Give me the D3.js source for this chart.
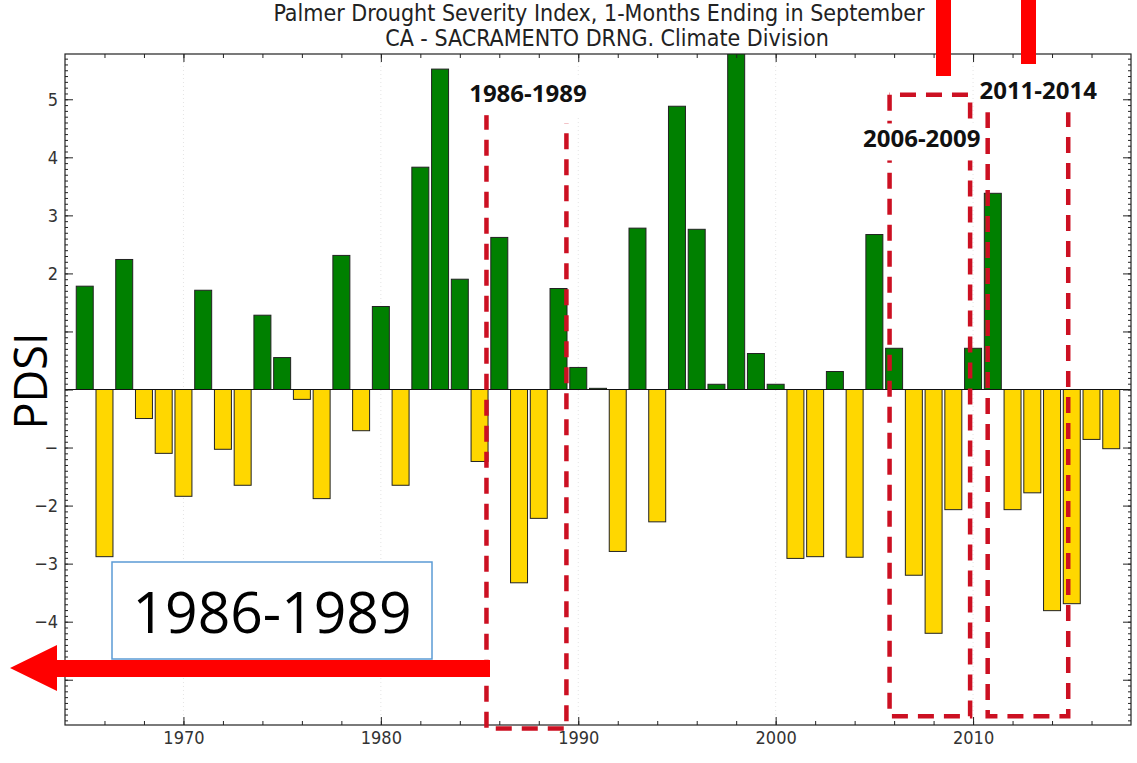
<!DOCTYPE html>
<html>
<head>
<meta charset="utf-8">
<script src="https://cdn.jsdelivr.net/npm/d3@7"></script>
<style>
  body { margin: 0; background: #fff; }
  svg { display: block; }
</style>
</head>
<body>
<div id="chart"></div>
<script>
// PDSI, September, CA Sacramento Drainage climate division
var years = d3.range(1965, 2018);
var pdsi = [
   1.78, -2.88,  2.24, -0.50, -1.10, -1.84,  1.71, -1.03, -1.65,  1.28,
   0.55, -0.17, -1.88,  2.31, -0.71,  1.43, -1.65,  3.83,  5.52,  1.90,
  -1.24,  2.62, -3.33, -2.22,  1.74,  0.38,  0.02, -2.79,  2.78, -2.28,
   4.88,  2.76,  0.09,  5.90,  0.62,  0.09, -2.91, -2.88,  0.31, -2.89,
   2.67,  0.71, -3.20, -4.20, -2.07,  0.71,  3.38, -2.07, -1.78, -3.81,
  -3.69, -0.86, -1.02
];
var xTicks = [1970, 1980, 1990, 2000, 2010];
var yTicks = [-5, -4, -3, -2, -1, 0, 1, 2, 3, 4, 5];
var yTickLabels = ["", "\u22124", "\u22123", "\u22122", "\u2212", "", "", "2", "3", "4", "5"];

// highlighted drought periods (years / PDSI units)
var periods = [
  {label: "1986-1989", x0: 1985.35, x1: 1989.4, top0: 4.75, top1: 4.59, bottom: -5.84, lx: 1987.45, ly: 4.95, topLine: false},
  {label: "2006-2009", x0: 2005.77, x1: 2009.85, top0: 5.08, top1: 5.08, bottom: -5.63, lx: 2007.4, ly: 4.17, topLine: true},
  {label: "2011-2014", x0: 2010.74, x1: 2014.82, top0: 4.78, top1: 4.82, bottom: -5.63, lx: 2013.3, ly: 5.0, topLine: false}
];

var data = years.map(function(y, i) { return {year: y, value: pdsi[i]}; });

var width = 1137, height = 763;
var margin = {left: 65, top: 54, right: 6, bottom: 38};
var tickFont = "'DejaVu Sans Condensed', 'DejaVu Sans', sans-serif";

var svg = d3.select("#chart").append("svg")
  .attr("width", width)
  .attr("height", height);

var xScale = d3.scaleLinear()
  .domain([1964, 2018])
  .range([margin.left, width - margin.right]);

var yScale = d3.scaleLinear()
  .domain([-5.78, 5.78])
  .range([height - margin.bottom, margin.top]);

var x0 = margin.left, x1 = width - margin.right;
var y0 = margin.top, y1 = height - margin.bottom;

svg.append("clipPath").attr("id", "plot-clip")
  .append("rect")
  .attr("x", x0).attr("y", y0)
  .attr("width", x1 - x0).attr("height", y1 - y0);

// faint grid
svg.append("g").selectAll("line")
  .data(xTicks)
  .enter().append("line")
  .attr("x1", d => xScale(d)).attr("x2", d => xScale(d))
  .attr("y1", y0).attr("y2", y1)
  .attr("stroke", "#e4e4e4")
  .attr("stroke-dasharray", "1,3");

// bars
var barW = 0.86;
svg.append("g")
  .attr("clip-path", "url(#plot-clip)")
  .selectAll("rect")
  .data(data)
  .enter().append("rect")
  .attr("x", d => xScale(d.year - barW / 2))
  .attr("width", xScale(barW) - xScale(0))
  .attr("y", d => yScale(Math.max(0, d.value)))
  .attr("height", d => Math.abs(yScale(d.value) - yScale(0)))
  .attr("fill", d => d.value >= 0 ? "#008000" : "#ffd700")
  .attr("stroke", "#222")
  .attr("stroke-width", 1);

// zero line
svg.append("line")
  .attr("x1", x0).attr("x2", x1)
  .attr("y1", yScale(0)).attr("y2", yScale(0))
  .attr("stroke", "#111").attr("stroke-width", 1);

// axes, ticks pointing inwards like old matplotlib
var minorX = d3.range(1966, 2018, 2);
var minorY = d3.range(-57, 58).map(v => v / 10);

svg.append("g")
  .attr("transform", `translate(0, ${y1})`)
  .call(d3.axisBottom(xScale).tickValues(xTicks).tickFormat(d3.format("d")).tickSizeInner(-8).tickSizeOuter(0).tickPadding(6))
  .call(g => g.select(".domain").remove());

svg.append("g")
  .attr("transform", `translate(0, ${y1})`)
  .call(d3.axisBottom(xScale).tickValues(minorX).tickFormat("").tickSizeInner(-4).tickSizeOuter(0))
  .call(g => g.select(".domain").remove());

svg.append("g")
  .attr("transform", `translate(0, ${y0})`)
  .call(d3.axisTop(xScale).tickValues(xTicks).tickFormat("").tickSizeInner(-8).tickSizeOuter(0))
  .call(g => g.select(".domain").remove());

svg.append("g")
  .attr("transform", `translate(0, ${y0})`)
  .call(d3.axisTop(xScale).tickValues(minorX).tickFormat("").tickSizeInner(-4).tickSizeOuter(0))
  .call(g => g.select(".domain").remove());

svg.append("g")
  .attr("transform", `translate(${x0}, 0)`)
  .call(d3.axisLeft(yScale).tickValues(yTicks).tickFormat((d, i) => yTickLabels[i]).tickSizeInner(-8).tickSizeOuter(0).tickPadding(7))
  .call(g => g.select(".domain").remove());

svg.append("g")
  .attr("transform", `translate(${x0}, 0)`)
  .call(d3.axisLeft(yScale).tickValues(minorY).tickFormat("").tickSizeInner(-3).tickSizeOuter(0))
  .call(g => g.select(".domain").remove());

svg.append("g")
  .attr("transform", `translate(${x1}, 0)`)
  .call(d3.axisRight(yScale).tickValues(yTicks).tickFormat("").tickSizeInner(-8).tickSizeOuter(0))
  .call(g => g.select(".domain").remove());

svg.append("g")
  .attr("transform", `translate(${x1}, 0)`)
  .call(d3.axisRight(yScale).tickValues(minorY).tickFormat("").tickSizeInner(-3).tickSizeOuter(0))
  .call(g => g.select(".domain").remove());

svg.selectAll(".tick line").attr("stroke", "#222");
svg.selectAll(".tick text")
  .attr("font-family", tickFont)
  .attr("font-size", 18)
  .attr("fill", "#333");

// frame
svg.append("rect")
  .attr("x", x0).attr("y", y0)
  .attr("width", x1 - x0).attr("height", y1 - y0)
  .attr("fill", "none")
  .attr("stroke", "#222")
  .attr("stroke-width", 1.2);

// title
svg.append("text")
  .attr("x", 599).attr("y", 21)
  .attr("text-anchor", "middle")
  .attr("font-family", tickFont)
  .attr("font-size", 23)
  .attr("fill", "#222")
  .text("Palmer Drought Severity Index, 1-Months Ending in September");
svg.append("text")
  .attr("x", 607).attr("y", 46)
  .attr("text-anchor", "middle")
  .attr("font-family", tickFont)
  .attr("font-size", 23)
  .attr("fill", "#222")
  .text("CA - SACRAMENTO DRNG. Climate Division");

// y label, with its own white box
svg.append("rect")
  .attr("x", 6).attr("y", 318)
  .attr("width", 52).attr("height", 124)
  .attr("fill", "#fff");
svg.append("text")
  .attr("transform", "translate(47, 381) rotate(-90)")
  .attr("text-anchor", "middle")
  .attr("font-family", "'Open Sans', sans-serif")
  .attr("font-size", 45)
  .attr("fill", "#000")
  .text("PDSI");

// dashed period boxes
var dashColor = "#cc1022";
var boxes = svg.append("g")
  .attr("fill", "none")
  .attr("stroke", dashColor)
  .attr("stroke-width", 4.5)
  .attr("stroke-dasharray", "16,10");

periods.forEach(function(p) {
  var pts = [[p.x0, p.top0], [p.x0, p.bottom], [p.x1, p.bottom], [p.x1, p.top1]];
  if (p.topLine) pts.push([p.x0, p.top0]);
  boxes.append("path")
    .attr("d", d3.line().x(d => xScale(d[0])).y(d => yScale(d[1]))(pts));
});

// period labels with white background
periods.forEach(function(p) {
  var t = svg.append("text")
    .attr("x", xScale(p.lx))
    .attr("y", yScale(p.ly))
    .attr("text-anchor", "middle")
    .attr("font-family", "'Open Sans', sans-serif")
    .attr("font-weight", "bold")
    .attr("font-size", 24)
    .attr("fill", "#111")
    .text(p.label);
  var bb = t.node().getBBox();
  svg.insert("rect", function() { return t.node(); })
    .attr("x", bb.x - 4).attr("y", bb.y + 2)
    .attr("width", bb.width + 8).attr("height", bb.height + 4)
    .attr("fill", "#fff");
});

// red marks at the top
svg.append("rect").attr("x", 936).attr("y", 0).attr("width", 15).attr("height", 76).attr("fill", "#ff0000");
svg.append("rect").attr("x", 1021).attr("y", 0).attr("width", 15).attr("height", 64).attr("fill", "#ff0000");

// callout box
svg.append("rect")
  .attr("x", 112).attr("y", 562)
  .attr("width", 320).attr("height", 97)
  .attr("fill", "#fff")
  .attr("stroke", "#5b9bd5")
  .attr("stroke-width", 1.5);
svg.append("text")
  .attr("x", 272).attr("y", 633)
  .attr("text-anchor", "middle")
  .attr("font-family", "'Open Sans', sans-serif")
  .attr("font-size", 57)
  .attr("fill", "#000")
  .text("1986-1989");

// arrow pointing left
svg.append("path")
  .attr("d", "M490,660 L57,660 L57,645 L10,668 L57,691 L57,677 L490,677 Z")
  .attr("fill", "#ff0000");
</script>
</body>
</html>
